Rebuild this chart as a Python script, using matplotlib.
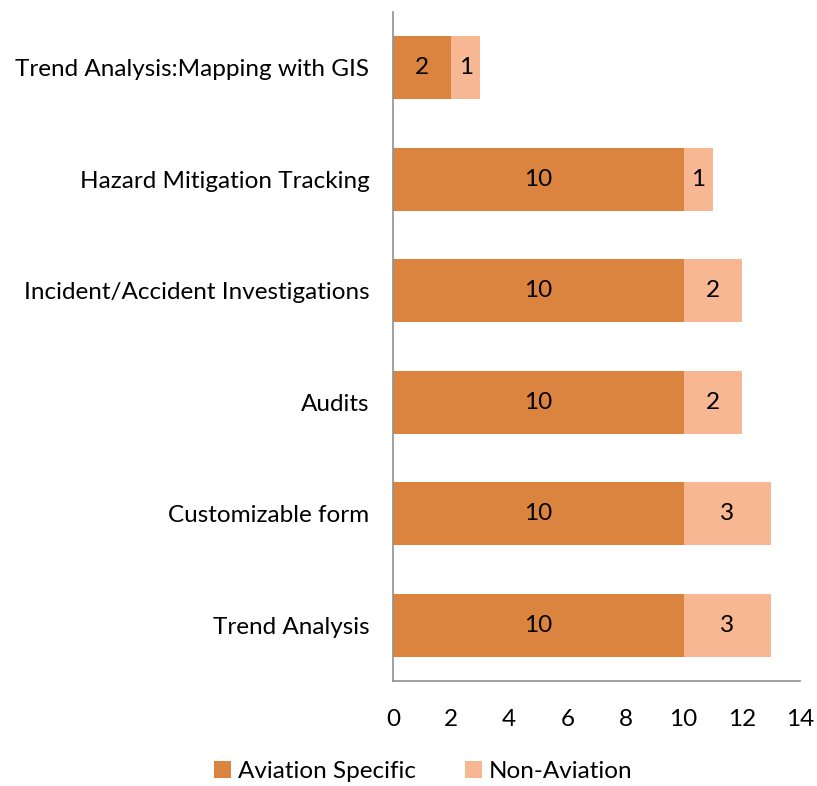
import matplotlib
matplotlib.use("Agg")
import matplotlib.pyplot as plt

categories = ["Trend Analysis", "Customizable form", "Audits",
              "Incident/Accident Investigations", "Hazard Mitigation Tracking",
              "Trend Analysis:Mapping with GIS"]
aviation = [10, 10, 10, 10, 10, 2]
non_aviation = [3, 3, 2, 2, 1, 1]
xticks = [0, 2, 4, 6, 8, 10, 12, 14]

plt.rcParams['font.family'] = ['Lato', 'DejaVu Sans']
c1 = "#DB843F"
c2 = "#F8B793"
fs = 17.5

fig = plt.figure(figsize=(8.17, 7.86), dpi=100)
ax = fig.add_axes([0.481, 0.1336, 0.498, 0.851])
y = list(range(len(categories)))
h = 0.565
b1 = ax.barh(y, aviation, height=h, color=c1, label="Aviation Specific")
b2 = ax.barh(y, non_aviation, left=aviation, height=h, color=c2, label="Non-Aviation")
for bars, vals, lefts in [(b1, aviation, [0]*len(aviation)), (b2, non_aviation, aviation)]:
    for yi, v, l in zip(y, vals, lefts):
        ax.text(l + v / 2, yi, str(v), ha="center", va="center", fontsize=fs, color="black")

ax.set_xlim(0, 14)
ax.set_ylim(-0.5, len(categories) - 0.5)
ax.set_xticks(xticks)
ax.set_xticklabels([str(t) for t in xticks], fontsize=fs)
ax.set_yticks(y)
ax.set_yticklabels(categories, fontsize=fs)
ax.tick_params(axis="y", length=0, pad=17)
ax.tick_params(axis="x", length=0, pad=20)
for s in ["top", "right"]:
    ax.spines[s].set_visible(False)
for s in ["left", "bottom"]:
    ax.spines[s].set_color("#909090")
    ax.spines[s].set_linewidth(1.2)

fig.legend(handles=[b1, b2], loc="center", bbox_to_anchor=(0.518, 0.018), ncol=2,
           frameon=False, fontsize=fs, handlelength=0.7, handleheight=0.7,
           handletextpad=0.3, columnspacing=2.0, borderpad=0)
fig.savefig("out.png", dpi=100)
